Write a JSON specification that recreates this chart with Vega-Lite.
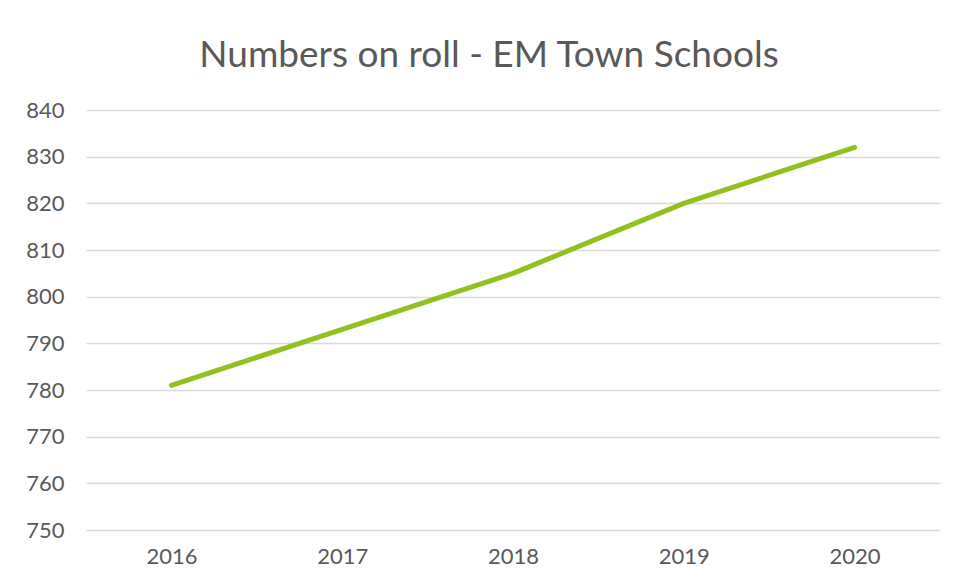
{
  "$schema": "https://vega.github.io/schema/vega-lite/v6.json",
  "width": 854,
  "height": 420,
  "autosize": {"type": "none"},
  "padding": {"left": 86, "top": 110, "right": 17, "bottom": 51},
  "background": "white",
  "title": {
    "text": "Numbers on roll - EM Town Schools",
    "font": "Lato",
    "fontSize": 37,
    "fontWeight": "normal",
    "color": "#595959",
    "anchor": "middle",
    "baseline": "alphabetic",
    "offset": 42,
    "dx": -24,
    "dy": 47
  },
  "data": {
    "values": [
      {"year": "2016", "roll": 781},
      {"year": "2017", "roll": 793},
      {"year": "2018", "roll": 805},
      {"year": "2019", "roll": 820},
      {"year": "2020", "roll": 832}
    ]
  },
  "config": {
    "view": {"stroke": null},
    "axis": {
      "labelFont": "Lato",
      "labelColor": "#595959",
      "labelFontSize": 22,
      "domain": false,
      "ticks": false,
      "gridColor": "#d9d9d9",
      "gridWidth": 1.5
    }
  },
  "mark": {"type": "line", "color": "#92C01F", "strokeWidth": 5, "strokeCap": "round", "strokeJoin": "round"},
  "encoding": {
    "x": {
      "field": "year",
      "type": "ordinal",
      "scale": {"paddingInner": 0, "paddingOuter": 0.5},
      "axis": {"title": null, "labelAngle": 0, "grid": false, "labelPadding": 16}
    },
    "y": {
      "field": "roll",
      "type": "quantitative",
      "scale": {"domain": [750, 840], "zero": false, "nice": false},
      "axis": {"title": null, "values": [750, 760, 770, 780, 790, 800, 810, 820, 830, 840], "labelPadding": 22, "grid": true}
    }
  }
}
